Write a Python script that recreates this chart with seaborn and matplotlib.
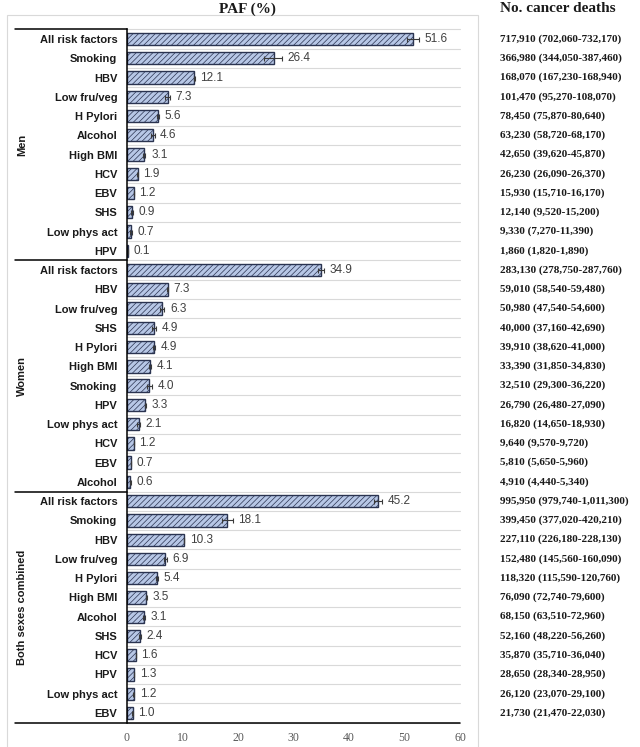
import numpy as np
import pandas as pd
import matplotlib
matplotlib.use("Agg")
import matplotlib.pyplot as plt
from matplotlib.patches import Rectangle
import seaborn as sns

sns.set_style("white")
plt.rcParams["font.family"] = ["Liberation Sans", "DejaVu Sans"]
plt.rcParams["hatch.linewidth"] = 0.5
plt.rcParams["hatch.color"] = "#2f3a57"

groups = ["Men", "Women", "Both sexes combined"]

men_factors = ["All risk factors", "Smoking", "HBV", "Low fru/veg", "H Pylori", "Alcohol",
               "High BMI", "HCV", "EBV", "SHS", "Low phys act", "HPV"]
men_paf = [51.6, 26.4, 12.1, 7.3, 5.6, 4.6, 3.1, 1.9, 1.2, 0.9, 0.7, 0.1]
men_lo = [50.5, 24.7, 12.0, 6.85, 5.4, 4.27, 2.88, 1.88, 1.18, 0.71, 0.55, 0.098]
men_hi = [52.6, 27.9, 12.2, 7.8, 5.75, 4.96, 3.33, 1.91, 1.22, 1.13, 0.85, 0.102]
men_deaths = ["717,910 (702,060-732,170)", "366,980 (344,050-387,460)", "168,070 (167,230-168,940)",
              "101,470 (95,270-108,070)", "78,450 (75,870-80,640)", "63,230 (58,720-68,170)",
              "42,650 (39,620-45,870)", "26,230 (26,090-26,370)", "15,930 (15,710-16,170)",
              "12,140 (9,520-15,200)", "9,330 (7,270-11,390)", "1,860 (1,820-1,890)"]

women_factors = ["All risk factors", "HBV", "Low fru/veg", "SHS", "H Pylori", "High BMI",
                 "Smoking", "HPV", "Low phys act", "HCV", "EBV", "Alcohol"]
women_paf = [34.9, 7.3, 6.3, 4.9, 4.9, 4.1, 4.0, 3.3, 2.1, 1.2, 0.7, 0.6]
women_lo = [34.36, 7.24, 5.87, 4.55, 4.74, 3.91, 3.6, 3.26, 1.83, 1.19, 0.68, 0.54]
women_hi = [35.47, 7.36, 6.75, 5.23, 5.03, 4.28, 4.46, 3.34, 2.36, 1.21, 0.72, 0.65]
women_deaths = ["283,130 (278,750-287,760)", "59,010 (58,540-59,480)", "50,980 (47,540-54,600)",
                "40,000 (37,160-42,690)", "39,910 (38,620-41,000)", "33,390 (31,850-34,830)",
                "32,510 (29,300-36,220)", "26,790 (26,480-27,090)", "16,820 (14,650-18,930)",
                "9,640 (9,570-9,720)", "5,810 (5,650-5,960)", "4,910 (4,440-5,340)"]

both_factors = ["All risk factors", "Smoking", "HBV", "Low fru/veg", "H Pylori", "High BMI",
                "Alcohol", "SHS", "HCV", "HPV", "Low phys act", "EBV"]
both_paf = [45.2, 18.1, 10.3, 6.9, 5.4, 3.5, 3.1, 2.4, 1.6, 1.3, 1.2, 1.0]
both_lo = [44.46, 17.08, 10.26, 6.59, 5.28, 3.35, 2.89, 2.22, 1.59, 1.29, 1.06, 0.99]
both_hi = [45.9, 19.04, 10.35, 7.24, 5.51, 3.66, 3.32, 2.59, 1.61, 1.31, 1.34, 1.01]
both_deaths = ["995,950 (979,740-1,011,300)", "399,450 (377,020-420,210)", "227,110 (226,180-228,130)",
               "152,480 (145,560-160,090)", "118,320 (115,590-120,760)", "76,090 (72,740-79,600)",
               "68,150 (63,510-72,960)", "52,160 (48,220-56,260)", "35,870 (35,710-36,040)",
               "28,650 (28,340-28,950)", "26,120 (23,070-29,100)", "21,730 (21,470-22,030)"]

x_ticks = [0, 10, 20, 30, 40, 50, 60]

factors = men_factors + women_factors + both_factors
paf = np.array(men_paf + women_paf + both_paf)
lo = np.array(men_lo + women_lo + both_lo)
hi = np.array(men_hi + women_hi + both_hi)
deaths = men_deaths + women_deaths + both_deaths
grp = [groups[0]] * len(men_factors) + [groups[1]] * len(women_factors) + [groups[2]] * len(both_factors)
keys = [f"{g}|{f}" for g, f in zip(grp, factors)]
df = pd.DataFrame({"key": keys, "paf": paf, "factor": factors, "group": grp})
n = len(df)

W, H = 640, 747
fig = plt.figure(figsize=(W / 100, H / 100), dpi=100)
top_px, bot_px = 29.4, 722.6
left_px, right_px = 127, 460
ax = fig.add_axes([left_px / W, 1 - bot_px / H, (right_px - left_px) / W, (bot_px - top_px) / H])

sns.barplot(data=df, x="paf", y="key", orient="h", order=keys, color="#b7c7e6", saturation=1,
            width=0.64, errorbar=None, edgecolor="#2a3350", linewidth=1.0, hatch="//////", ax=ax, zorder=3)

ax.errorbar(paf, np.arange(n), xerr=[paf - lo, hi - paf], fmt="none", ecolor="#3a3a3a",
            elinewidth=0.8, capsize=1.8, capthick=0.8, zorder=4)

ax.set_xlim(0, 60)
ax.set_ylim(n - 0.5, -0.5)

# gridlines between rows
for b in np.arange(-0.5, n, 1.0):
    ax.plot([0, 1], [b, b], transform=ax.get_yaxis_transform(), color="#d9d9d9", lw=0.8, zorder=1, clip_on=False)

for s in ["top", "right", "bottom"]:
    ax.spines[s].set_visible(False)
ax.spines["left"].set_color("black")
ax.spines["left"].set_linewidth(1.1)
ax.spines["left"].set_zorder(5)

# group separators and bottom axis
xl = (15 - left_px) / (right_px - left_px)
for b in [-0.5, 11.5, 23.5]:
    ax.plot([xl, 0], [b, b], transform=ax.get_yaxis_transform(), color="black", lw=1.1, clip_on=False, zorder=5)
ax.plot([xl, 1], [n - 0.5, n - 0.5], transform=ax.get_yaxis_transform(), color="black", lw=1.1,
        clip_on=False, zorder=5)

# group labels
gx = (22 - left_px) / (right_px - left_px)
for g, c in zip(groups, [5.5, 17.5, 29.5]):
    ax.text(gx, c, g, transform=ax.get_yaxis_transform(), rotation=90, ha="center", va="center",
            fontsize=8, fontweight="bold", color="#1a1a1a")

ax.set_yticks(np.arange(n))
ax.set_yticklabels(factors, fontsize=8, fontweight="bold", color="#1a1a1a")
ax.tick_params(axis="y", length=0, pad=7)
ax.set_xticks(x_ticks)
ax.set_xticklabels([str(t) for t in x_ticks], fontsize=8.5, color="#595959", family="Liberation Serif")
ax.tick_params(axis="x", length=0, pad=7)
ax.set_xlabel("")
ax.set_ylabel("")

# value labels
for i in range(n):
    ax.annotate(f"{paf[i]:.1f}", xy=(max(hi[i], paf[i]), i), xytext=(4, 0), textcoords="offset points",
                va="center", ha="left", fontsize=8.5, color="#404040", zorder=6)

# deaths table
dx = (500 - left_px) / (right_px - left_px)
for i in range(n):
    ax.text(dx, i, deaths[i], transform=ax.get_yaxis_transform(), ha="left", va="center",
            fontsize=8, fontweight="bold", family="Liberation Serif", color="#1a1a1a")

fig.text(247 / W, 1 - 9 / H, "PAF (%)", ha="center", va="center", fontsize=11, fontweight="bold",
         family="Liberation Serif", color="#1a1a1a")
fig.text(500 / W, 1 - 9 / H, "No. cancer deaths", ha="left", va="center", fontsize=11, fontweight="bold",
         family="Liberation Serif", color="#1a1a1a")

fig.add_artist(Rectangle((7 / W, -0.01), (478 - 7) / W, 1 - 15 / H + 0.01, transform=fig.transFigure,
                         fill=False, edgecolor="#d9d9d9", lw=0.8))

fig.savefig("out.png", dpi=100, facecolor="white")
